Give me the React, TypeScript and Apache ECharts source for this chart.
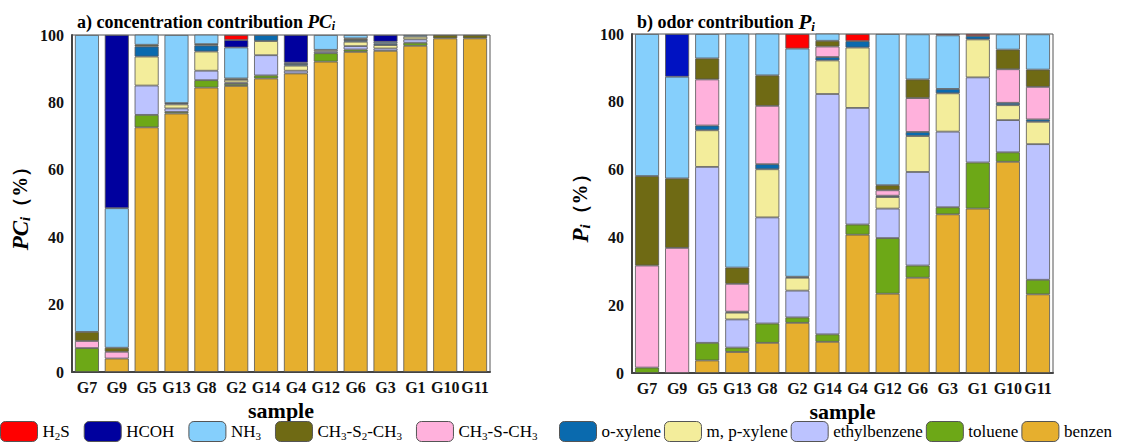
import React, { useEffect, useRef } from "react";
import * as echarts from "echarts";

const categories = ["G7", "G9", "G5", "G13", "G8", "G2", "G14", "G4", "G12", "G6", "G3", "G1", "G10", "G11"];
const yTicks = [0, 20, 40, 60, 80, 100];

// stacking order: bottom -> top
const speciesNames = ["benzen", "toluene", "ethylbenzene", "m, p-xylene", "o-xylene", "CH3-S-CH3", "CH3-S2-CH3", "NH3", "HCOH", "H2S"];
const speciesColors = ["#e6af2e", "#6da817", "#bcc3ff", "#f3ed9b", "#0a6aae", "#ffb1dc", "#6f6a14", "#85cffc", "#00009e", "#ff0000"];

// a) concentration contribution PCi (%)
const pcBenzen = [0, 4.0, 72.6, 76.7, 84.4, 84.9, 87.1, 88.6, 92.1, 95.0, 95.3, 96.8, 99.0, 99.0];
const pcToluene = [7.1, 0, 3.7, 0.5, 2.2, 0.6, 0.9, 0, 2.5, 0.7, 0, 0.9, 0, 0];
const pcEthylbenzene = [0, 0, 8.7, 1.0, 2.8, 0.4, 6.0, 0.8, 0.5, 1.0, 0.7, 1.0, 0, 0];
const pcMPXylene = [0, 0, 8.6, 1.2, 5.7, 0.8, 4.2, 1.5, 0.5, 1.3, 1.0, 0.8, 0, 0];
const pcOXylene = [0, 0, 3.0, 0.4, 1.8, 0, 1.8, 0.5, 0, 0.5, 0.5, 0, 0, 0];
const pcCH3SCH3 = [2.1, 2.0, 0, 0, 0, 0, 0, 0, 0, 0, 0, 0, 0, 0];
const pcCH3S2CH3 = [2.7, 1.2, 0.5, 0, 0.4, 0.4, 0, 0, 0, 0.5, 0, 0, 1.0, 1.0];
const pcNH3 = [88.1, 41.4, 3.0, 20.2, 2.8, 9.2, 0, 0.4, 4.4, 1.0, 0.5, 0.5, 0, 0];
const pcHCOH = [0, 51.4, 0, 0, 0, 2.2, 0, 8.2, 0, 0, 2.0, 0, 0, 0];
const pcH2S = [0, 0, 0, 0, 0, 1.5, 0, 0, 0, 0, 0, 0, 0, 0];

// b) odor contribution Pi (%)
const pBenzen = [0, 0, 3.7, 6.2, 8.9, 14.8, 9.2, 40.8, 23.4, 28.1, 46.8, 48.5, 62.3, 23.2];
const pToluene = [1.6, 0, 5.2, 1.3, 5.7, 1.6, 2.2, 3.0, 16.4, 3.6, 2.1, 13.6, 2.8, 4.3];
const pEthylbenzene = [0, 0, 51.9, 8.3, 31.3, 7.9, 70.9, 34.4, 8.7, 27.6, 22.3, 25.1, 9.5, 40.0];
const pMPXylene = [0, 0, 10.8, 2.0, 14.2, 3.8, 9.9, 17.8, 3.4, 10.6, 11.3, 11.2, 4.4, 6.6];
const pOXylene = [0, 0, 1.4, 0.3, 1.5, 0.3, 1.0, 1.9, 0.4, 1.2, 1.3, 1.0, 0.7, 0.7];
const pCH3SCH3 = [30.1, 36.9, 13.6, 8.2, 17.2, 0, 3.1, 0, 1.6, 10.0, 0, 0, 9.9, 9.6];
const pCH3S2CH3 = [26.4, 20.5, 6.2, 4.8, 9.0, 0, 1.7, 0, 1.5, 5.5, 0, 0, 5.8, 5.1];
const pNH3 = [41.9, 30.0, 7.2, 69.0, 12.3, 67.3, 2.1, 0, 44.6, 13.3, 15.8, 0, 4.5, 10.4];
const pHCOH = [0, 12.6, 0, 0, 0, 0, 0, 0, 0, 0, 0, 0, 0, 0];
const pH2S = [0, 0, 0, 0, 0, 4.3, 0, 2.1, 0, 0, 0.4, 0.6, 0, 0];

const pcData = [pcBenzen, pcToluene, pcEthylbenzene, pcMPXylene, pcOXylene, pcCH3SCH3, pcCH3S2CH3, pcNH3, pcHCOH, pcH2S];
const pData = [pBenzen, pToluene, pEthylbenzene, pMPXylene, pOXylene, pCH3SCH3, pCH3S2CH3, pNH3, pHCOH, pH2S];

const legendLeft = ["H2S", "HCOH", "NH3", "CH3-S2-CH3", "CH3-S-CH3"];
const legendRight = ["o-xylene", "m, p-xylene", "ethylbenzene", "toluene", "benzen"];

const FONT = "Liberation Serif";

const richLabel: Record<string, string> = {
  H2S: "H{sub|2}S",
  NH3: "NH{sub|3}",
  "CH3-S2-CH3": "CH{sub|3}-S{sub|2}-CH{sub|3}",
  "CH3-S-CH3": "CH{sub|3}-S-CH{sub|3}",
};

export default function App() {
  const ref = useRef<HTMLDivElement>(null);
  useEffect(() => {
    if (!ref.current) return;
    const chart = echarts.init(ref.current, undefined, { renderer: "svg" });
    const grids = [
      { left: 72, top: 35, width: 418, height: 337 },
      { left: 632, top: 34, width: 421, height: 339 },
    ];
    const xAxes = grids.map((_, i) => ({
      type: "category",
      gridIndex: i,
      data: categories,
      name: "sample",
      nameLocation: "middle",
      nameGap: 25,
      nameTextStyle: { fontFamily: FONT, fontWeight: "bold", fontSize: 22, color: "#000" },
      axisLine: { lineStyle: { color: "#444", width: 2 } },
      axisTick: { inside: true, alignWithLabel: true, length: 5, lineStyle: { color: "#111" } },
      axisLabel: { interval: 0, fontFamily: FONT, fontWeight: "bold", fontSize: 16, color: "#111", margin: 7 },
    }));
    const yNames = ["{it|PC}{sub|i}{n|（%）}", "{it|P}{sub|i}{n|（%）}"];
    const yAxes = grids.map((_, i) => ({
      type: "value",
      gridIndex: i,
      min: yTicks[0],
      max: yTicks[yTicks.length - 1],
      interval: 20,
      name: yNames[i],
      nameLocation: "middle",
      nameRotate: 90,
      nameGap: 40,
      nameTextStyle: {
        fontFamily: FONT,
        fontWeight: "bold",
        fontSize: 21,
        color: "#000",
        rich: {
          it: { fontFamily: FONT, fontWeight: "bold", fontStyle: "italic", fontSize: 23, color: "#000" },
          sub: { fontFamily: FONT, fontWeight: "bold", fontStyle: "italic", fontSize: 15, color: "#000", padding: [9, 0, 0, 0] },
          n: { fontFamily: FONT, fontWeight: "bold", fontSize: 20, color: "#000" },
        },
      },
      splitLine: { show: false },
      axisLine: { show: true, lineStyle: { color: "#444", width: 2 } },
      axisTick: { inside: true, length: 5, lineStyle: { color: "#111" } },
      axisLabel: { fontFamily: FONT, fontWeight: "bold", fontSize: 16, color: "#111", margin: 8 },
    }));
    const series: any[] = [];
    [pcData, pData].forEach((set, gi) => {
      set.forEach((vals, si) => {
        series.push({
          type: "bar",
          name: speciesNames[si],
          xAxisIndex: gi,
          yAxisIndex: gi,
          stack: gi === 0 ? "pc" : "p",
          barWidth: 24,
          data: vals.map((v) => (v === 0 ? "-" : v)),
          itemStyle: {
            color: gi === 1 && speciesNames[si] === "HCOH" ? "#0012c2" : speciesColors[si],
            borderColor: "#555",
            borderWidth: 0.8,
          },
        });
      });
    });
    const legendText = {
      fontFamily: FONT,
      fontSize: 17,
      color: "#000",
      rich: {
        sub: { fontFamily: FONT, fontSize: 11, color: "#000", padding: [8, 0, 0, 0] },
      },
    };
    const titleRich = (itSize: number, subSize: number) => ({
      it: { fontFamily: FONT, fontWeight: "bold", fontStyle: "italic", fontSize: itSize, color: "#000" },
      sub: { fontFamily: FONT, fontWeight: "bold", fontStyle: "italic", fontSize: subSize, color: "#000", padding: [9, 0, 0, 0] },
      t: { fontFamily: FONT, fontWeight: "bold", fontSize: 18, color: "#000" },
    });
    const option: any = {
      animation: false,
      color: speciesColors,
      textStyle: { fontFamily: FONT },
      title: [
        {
          left: 72,
          top: 6,
          text: "{t|a) concentration contribution }{it|PC}{sub|i}",
          textStyle: { fontFamily: FONT, fontWeight: "bold", fontSize: 18, color: "#000", rich: titleRich(19, 12) },
        },
        {
          left: 632,
          top: 6,
          text: "{t|b) odor contribution }{it|P}{sub|i}",
          textStyle: { fontFamily: FONT, fontWeight: "bold", fontSize: 18, color: "#000", rich: titleRich(21, 13) },
        },
      ],
      grid: grids.map((g) => ({ ...g, show: true, borderColor: "#555", borderWidth: 1, backgroundColor: "transparent" })),
      xAxis: xAxes,
      yAxis: yAxes,
      legend: [
        {
          data: legendLeft,
          left: 0,
          top: 421,
          itemWidth: 37,
          itemHeight: 20,
          itemGap: 14,
          padding: 0,
          formatter: (n: string) => richLabel[n] || n,
          textStyle: legendText,
          itemStyle: { borderColor: "#555", borderWidth: 1 },
          selectedMode: false,
        },
        {
          data: legendRight,
          left: 559,
          top: 421,
          itemWidth: 37,
          itemHeight: 20,
          itemGap: 3,
          padding: 0,
          formatter: (n: string) => richLabel[n] || n,
          textStyle: legendText,
          itemStyle: { borderColor: "#555", borderWidth: 1 },
          selectedMode: false,
        },
      ],
      series,
    };
    chart.setOption(option);
    return () => chart.dispose();
  }, []);
  return <div ref={ref} style={{ position: "fixed", left: 0, top: 0, width: 1130, height: 442, background: "#fff" }} />;
}
